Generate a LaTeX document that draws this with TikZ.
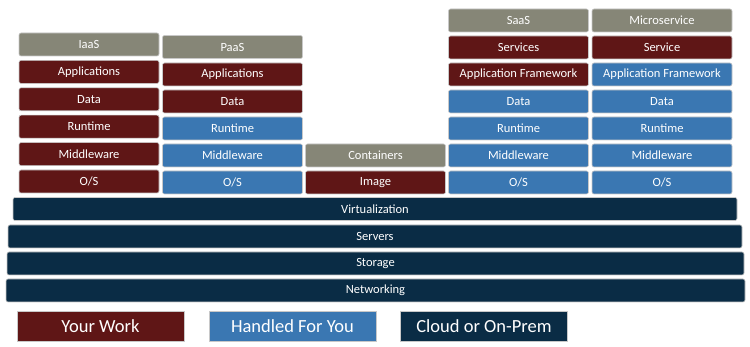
\documentclass[tikz,border=0pt]{standalone}
\usepackage{fontspec}
\setmainfont{Carlito}
\definecolor{workred}{HTML}{5F1616}
\definecolor{handblue}{HTML}{3A77B2}
\definecolor{cloudnavy}{HTML}{0A2C45}
\definecolor{tiergray}{HTML}{868677}
\definecolor{edgegray}{HTML}{C8C8C8}
\tikzset{
  layer/.style={rounded corners=2pt,draw=edgegray,line width=0.6pt,text=white,
    inner sep=0pt,minimum width=140pt,minimum height=23pt,
    font=\fontsize{12.5}{14}\selectfont},
  work/.style={layer,fill=workred},
  handled/.style={layer,fill=handblue},
  tier/.style={layer,fill=tiergray},
  infra/.style={layer,fill=cloudnavy},
  key/.style={draw=edgegray,line width=0.6pt,text=white,inner sep=0pt,
    minimum width=167pt,minimum height=30pt,font=\fontsize{18.5}{20}\selectfont}
}
\begin{document}
\begin{tikzpicture}[x=1pt,y=-1pt]
  \useasboundingbox (0,0) rectangle (750,347);

  % IaaS
  \node[tier]    (iaas)     at (89,44.5)  {IaaS};
  \node[work]    (iaasApp)  at (89,71.9)  {Applications};
  \node[work]    (iaasData) at (89,99.3)  {Data};
  \node[work]    (iaasRun)  at (89,126.7) {Runtime};
  \node[work]    (iaasMid)  at (89,154.1) {Middleware};
  \node[work]    (iaasOS)   at (89,181.5) {O/S};

  % PaaS
  \node[tier]    (paas)     at (232.5,47)    {PaaS};
  \node[work]    (paasApp)  at (232.5,74.5)  {Applications};
  \node[work]    (paasData) at (232.5,101.5) {Data};
  \node[handled] (paasRun)  at (232.5,128.5) {Runtime};
  \node[handled] (paasMid)  at (232.5,155.5) {Middleware};
  \node[handled] (paasOS)   at (232.5,182.5) {O/S};

  % Containers
  \node[tier]    (cont)     at (375.5,155.5) {Containers};
  \node[work]    (contImg)  at (375.5,182.5) {Image};

  % SaaS
  \node[tier]    (saas)     at (518.5,20.5)  {SaaS};
  \node[work]    (saasSvc)  at (518.5,47.5)  {Services};
  \node[work]    (saasFw)   at (518.5,74.5)  {Application Framework};
  \node[handled] (saasData) at (518.5,101.5) {Data};
  \node[handled] (saasRun)  at (518.5,128.5) {Runtime};
  \node[handled] (saasMid)  at (518.5,155.5) {Middleware};
  \node[handled] (saasOS)   at (518.5,182.5) {O/S};

  % Microservice
  \node[tier]    (micro)     at (662,20.5)  {Microservice};
  \node[work]    (microSvc)  at (662,47.5)  {Service};
  \node[handled] (microFw)   at (662,74.5)  {Application Framework};
  \node[handled] (microData) at (662,101.5) {Data};
  \node[handled] (microRun)  at (662,128.5) {Runtime};
  \node[handled] (microMid)  at (662,155.5) {Middleware};
  \node[handled] (microOS)   at (662,182.5) {O/S};

  % shared infrastructure
  \node[infra,minimum width=724pt] (virt) at (375,209)   {Virtualization};
  \node[infra,minimum width=734pt] (srv)  at (375,236.5) {Servers};
  \node[infra,minimum width=737pt] (stor) at (375.5,263.5) {Storage};
  \node[infra,minimum width=739pt] (net)  at (375.5,290.5) {Networking};

  % legend
  \node[key,fill=workred]   (keyWork)  at (100.5,326) {Your Work};
  \node[key,fill=handblue]  (keyHand)  at (292.5,326) {Handled For You};
  \node[key,fill=cloudnavy] (keyCloud) at (484,326)   {Cloud or On-Prem};
\end{tikzpicture}
\end{document}
